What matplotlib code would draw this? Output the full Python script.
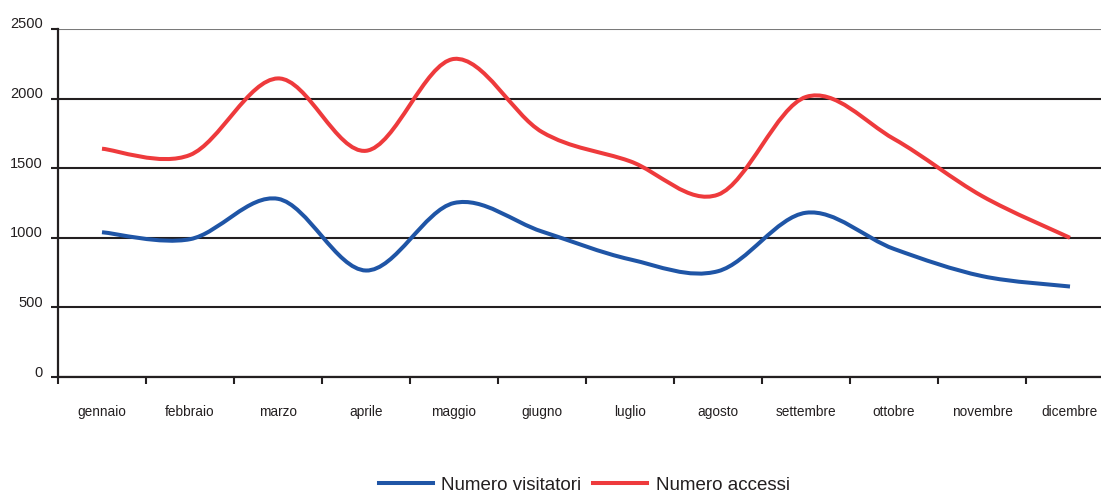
import numpy as np
import matplotlib
matplotlib.use("Agg")
import matplotlib.pyplot as plt
from matplotlib.path import Path
from matplotlib.patches import PathPatch
from matplotlib.lines import Line2D
from matplotlib.transforms import ScaledTranslation

mesi = ["gennaio", "febbraio", "marzo", "aprile", "maggio", "giugno",
        "luglio", "agosto", "settembre", "ottobre", "novembre", "dicembre"]
visitatori = [1040, 990, 1280, 765, 1250, 1045, 845, 760, 1180, 920, 725, 650]
accessi = [1640, 1595, 2145, 1625, 2285, 1760, 1550, 1310, 2012, 1710, 1300, 1000]
y_ticks = [0, 500, 1000, 1500, 2000, 2500]

plt.rcParams['font.family'] = ['Liberation Sans', 'DejaVu Sans']


def smooth_path(xs, ys):
    """curva tipo Excel: bezier cubica con tangenti catmull-rom"""
    pts = np.column_stack([xs, ys]).astype(float)
    ext = np.vstack([pts[0], pts, pts[-1]])
    verts = [pts[0]]
    codes = [Path.MOVETO]
    for i in range(len(pts) - 1):
        p0, p1, p2, p3 = ext[i], ext[i + 1], ext[i + 2], ext[i + 3]
        c1 = p1 + (p2 - p0) / 6.0
        c2 = p2 - (p3 - p1) / 6.0
        verts += [c1, c2, p2]
        codes += [Path.CURVE4] * 3
    return Path(verts, codes)


fig = plt.figure(figsize=(11.01, 4.94), dpi=100)
ax = fig.add_axes([58 / 1101, 117 / 494, 1056 / 1101, 348 / 494])

x = np.arange(len(mesi)) + 0.5
blu = '#1f55a6'
rosso = '#ee3a3c'
for serie, col in [(visitatori, blu), (accessi, rosso)]:
    ax.add_patch(PathPatch(smooth_path(x, serie), fill=False, edgecolor=col,
                           lw=2.9, capstyle='butt', joinstyle='round', zorder=3))

ax.set_xlim(0, len(mesi))
ax.set_ylim(0, 2500)

ax.set_yticks(y_ticks)
ax.yaxis.grid(True, color='#231f20', lw=1.5)
ax.get_ygridlines()[-1].set_color('#7a7a7a')
ax.set_axisbelow(True)
ax.tick_params(axis='y', length=5, width=1.5, color='#231f20', pad=6,
               labelsize=10.5, labelcolor='#231f20')
for lab in ax.get_yticklabels():
    lab.set_transform(lab.get_transform() + ScaledTranslation(0, 0.06, fig.dpi_scale_trans))

ax.set_xticks(np.arange(len(mesi) + 1))
ax.set_xticklabels([])
ax.set_xticks(x, minor=True)
ax.set_xticklabels(mesi, minor=True)
ax.tick_params(axis='x', which='major', length=5, width=1.5, color='#231f20')
ax.tick_params(axis='x', which='minor', length=0, pad=20, labelsize=9.8,
               labelcolor='#231f20')

for s in ['top', 'right']:
    ax.spines[s].set_visible(False)
for s in ['left', 'bottom']:
    ax.spines[s].set_color('#231f20')
    ax.spines[s].set_linewidth(1.6)

handles = [Line2D([], [], color=blu, lw=2.9),
           Line2D([], [], color=rosso, lw=2.9)]
fig.legend(handles, ["Numero visitatori", "Numero accessi"], loc='center',
           bbox_to_anchor=(584 / 1101, 1 - 485 / 494), ncol=2, frameon=False,
           fontsize=13.5, handlelength=2.9, handletextpad=0.45, columnspacing=0.6,
           labelcolor='#231f20')

fig.savefig("out.png", dpi=100)
